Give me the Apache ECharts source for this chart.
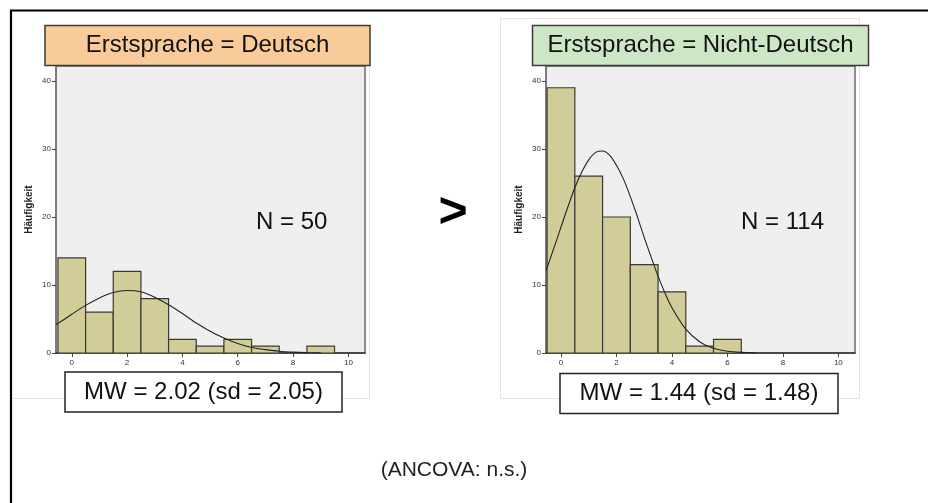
<!DOCTYPE html>
<html>
<head>
<meta charset="utf-8">
<script src="https://cdn.jsdelivr.net/npm/echarts@6/dist/echarts.min.js"></script>
<style>
html,body{margin:0;padding:0;background:#fff;}
#chart{width:928px;height:503px;}
</style>
</head>
<body>
<div id="chart"></div>
<script>
// ---- data ----
const binCenters = [0, 1, 2, 3, 4, 5, 6, 7, 8, 9];
const countsDeutsch = [14, 6, 12, 8, 2, 1, 2, 1, 0, 1];
const countsNichtDeutsch = [39, 26, 20, 13, 9, 1, 2, 0, 0, 0];

const curveDeutschX = [-0.57, -0.25, 0, 0.5, 1, 1.5, 2, 2.5, 3, 3.5, 4, 4.5, 5, 5.5, 6, 6.5, 7, 7.5, 8, 8.5, 9];
const curveDeutschY = [4.2, 5.0, 5.7, 7.0, 8.1, 8.9, 9.2, 9.0, 8.2, 7.1, 5.8, 4.4, 3.2, 2.2, 1.4, 0.8, 0.5, 0.26, 0.13, 0.06, 0.03];

const curveNichtX = [-0.54, -0.25, 0, 0.25, 0.5, 0.75, 1, 1.25, 1.5, 1.75, 2, 2.25, 2.5, 2.75, 3, 3.25, 3.5, 3.75, 4, 4.5, 5, 5.5, 6, 6.5, 7];
const curveNichtY = [12.1, 15.5, 18.5, 21.5, 24.3, 26.6, 28.4, 29.5, 29.7, 29.1, 27.6, 25.6, 23.0, 20.1, 17.0, 14.1, 11.3, 8.8, 6.65, 3.5, 1.65, 0.69, 0.26, 0.09, 0.03];

const xTicks = [0, 2, 4, 6, 8, 10];
const yTicks = [0, 10, 20, 30, 40];

const titleDeutsch = 'Erstsprache = Deutsch';
const titleNicht = 'Erstsprache = Nicht-Deutsch';
const nDeutsch = 'N = 50';
const nNicht = 'N = 114';
const mwDeutsch = 'MW = 2.02 (sd = 2.05)';
const mwNicht = 'MW = 1.44 (sd = 1.48)';
const compareSign = '>';
const footnote = '(ANCOVA: n.s.)';
const yName = 'Häufigkeit';

// ---- chart ----
const FONT = 'Liberation Sans, Arial, Helvetica, sans-serif';
const chart = echarts.init(document.getElementById('chart'), null, {renderer: 'canvas'});

function pairs(xs, ys) { return xs.map((x, i) => [x, ys[i]]); }
function barData(counts) { return binCenters.map((x, i) => [x, counts[i]]).filter(d => d[1] > 0); }

function renderBar(params, api) {
  const x = api.value(0), y = api.value(1);
  const p0 = api.coord([x - 0.5, y]);
  const p1 = api.coord([x + 0.5, 0]);
  return {
    type: 'rect',
    shape: {x: p0[0], y: p0[1], width: p1[0] - p0[0], height: p1[1] - p0[1]},
    style: {fill: '#D1CD98', stroke: '#3a3a32', lineWidth: 1.2}
  };
}

function makeX(idx) {
  return {
    type: 'value', gridIndex: idx, min: idx === 0 ? -0.57 : -0.54, max: 10.6,
    splitLine: {show: false},
    axisLine: {show: true, onZero: false, lineStyle: {color: '#333', width: 1.5}},
    axisTick: {show: true, length: 4, customValues: xTicks, lineStyle: {color: '#444'}},
    axisLabel: {customValues: xTicks, fontSize: 8, color: '#333', fontFamily: FONT, margin: 6}
  };
}
function makeY(idx) {
  return {
    type: 'value', gridIndex: idx, min: 0, max: 42.2,
    splitLine: {show: false},
    name: yName, nameLocation: 'middle', nameRotate: 90, nameGap: 22,
    nameTextStyle: {fontSize: 10, fontWeight: 'bold', color: '#222', fontFamily: FONT},
    axisLine: {show: true, onZero: false, lineStyle: {color: '#777', width: 1.5}},
    axisTick: {show: true, length: 4, customValues: yTicks, lineStyle: {color: '#444'}},
    axisLabel: {customValues: yTicks, fontSize: 8, color: '#333', fontFamily: FONT, margin: 5}
  };
}

function boxText(cx, cy, w, h, text, fill, stroke, size) {
  return [
    {type: 'rect', z: 10, shape: {x: cx - w / 2, y: cy - h / 2, width: w, height: h},
     style: {fill: fill, stroke: stroke, lineWidth: 1.5}},
    {type: 'text', z: 11, x: cx, y: cy,
     style: {text: text, font: size + 'px ' + FONT, fill: '#111', align: 'center', verticalAlign: 'middle'}}
  ];
}

const option = {
  backgroundColor: '#fff',
  animation: false,
  grid: [
    {left: 56, top: 66, width: 309, height: 287, show: true, backgroundColor: '#EEEFEE', borderColor: '#6b6b6b', borderWidth: 1.5},
    {left: 546, top: 66, width: 309, height: 287, show: true, backgroundColor: '#EEEFEE', borderColor: '#6b6b6b', borderWidth: 1.5}
  ],
  xAxis: [makeX(0), makeX(1)],
  yAxis: [makeY(0), makeY(1)],
  series: [
    {type: 'custom', xAxisIndex: 0, yAxisIndex: 0, renderItem: renderBar, data: barData(countsDeutsch), clip: true},
    {type: 'custom', xAxisIndex: 1, yAxisIndex: 1, renderItem: renderBar, data: barData(countsNichtDeutsch), clip: true},
    {type: 'line', xAxisIndex: 0, yAxisIndex: 0, data: pairs(curveDeutschX, curveDeutschY), smooth: 0.3,
     symbol: 'none', clip: true, lineStyle: {color: '#222', width: 1.1}, z: 5},
    {type: 'line', xAxisIndex: 1, yAxisIndex: 1, data: pairs(curveNichtX, curveNichtY), smooth: 0.3,
     symbol: 'none', clip: true, lineStyle: {color: '#222', width: 1.1}, z: 5}
  ],
  graphic: [
    // faint panel outlines
    {type: 'polyline', z: 0, shape: {points: [[12, 398.5], [369.5, 398.5], [369.5, 25]]}, style: {stroke: '#e2e2e2', lineWidth: 1, fill: null}},
    {type: 'rect', z: 0, shape: {x: 500.5, y: 18.5, width: 359, height: 380}, style: {stroke: '#e2e2e2', lineWidth: 1, fill: null}},
    // outer frame
    {type: 'line', z: 20, shape: {x1: 10, y1: 10.5, x2: 928, y2: 10.5}, style: {stroke: '#000', lineWidth: 2.2}},
    {type: 'line', z: 20, shape: {x1: 11, y1: 10, x2: 11, y2: 503}, style: {stroke: '#000', lineWidth: 2.2}},
    // titles
    ...boxText(207.5, 45.5, 325, 40, titleDeutsch, '#F9CA9A', '#3b3b3b', 24),
    ...boxText(700.5, 45.5, 336, 40, titleNicht, '#CDE7C6', '#3b3b3b', 24),
    // N labels
    {type: 'text', x: 291.7, y: 222.5, z: 10, style: {text: nDeutsch, font: '24px ' + FONT, fill: '#111', align: 'center', verticalAlign: 'middle'}},
    {type: 'text', x: 782.5, y: 222.5, z: 10, style: {text: nNicht, font: '24px ' + FONT, fill: '#111', align: 'center', verticalAlign: 'middle'}},
    // mean boxes
    ...boxText(203.5, 392, 277, 40, mwDeutsch, '#fff', '#222', 24),
    ...boxText(699, 393.5, 278, 40, mwNicht, '#fff', '#222', 24),
    // comparison sign
    {type: 'text', x: 453, y: 213, z: 10, style: {text: compareSign, font: 'bold 50px ' + FONT, fill: '#000', align: 'center', verticalAlign: 'middle'}},
    // footnote
    {type: 'text', x: 454, y: 470, z: 10, style: {text: footnote, font: '21px ' + FONT, fill: '#222', align: 'center', verticalAlign: 'middle'}}
  ]
};
chart.setOption(option);
</script>
</body>
</html>
